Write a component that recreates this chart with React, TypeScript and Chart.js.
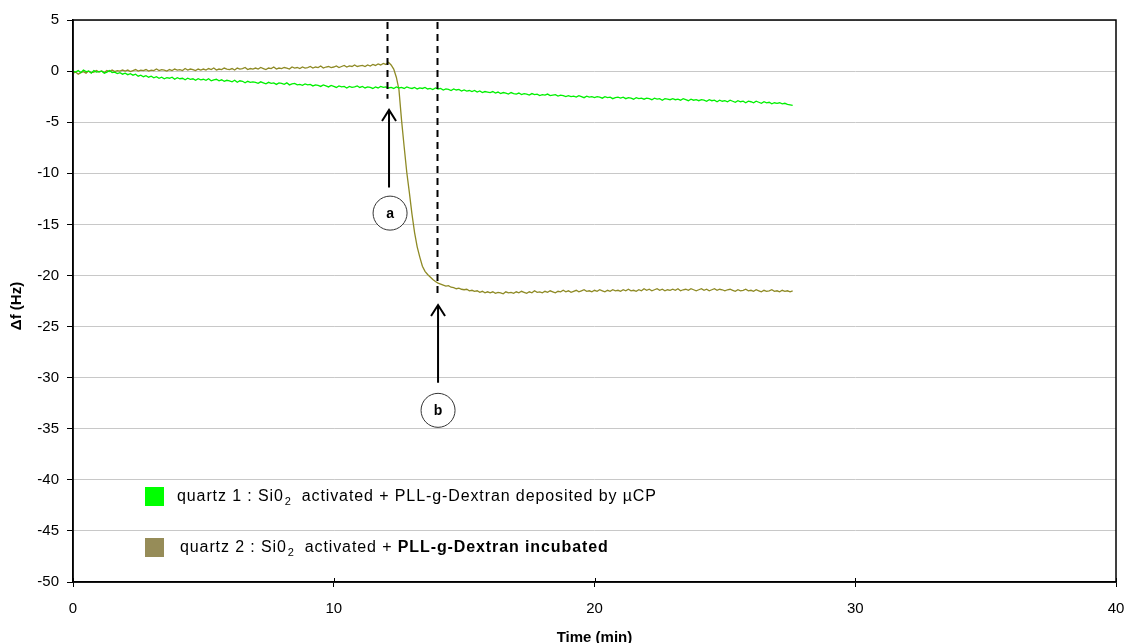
import { useEffect, useRef } from "react";
import { Chart, registerables } from "chart.js";

Chart.register(...registerables);

// ---- Data ----
const T_START = 0; // min
const T_STEP = 0.1; // min between samples

// quartz 1 : Si02 activated + PLL-g-Dextran deposited by µCP
const quartz1 = [
  0.0, -0.1, 0.05, -0.15, 0.1, -0.05, 0.0, -0.2, 0.05, -0.1,
  -0.05, 0.0, -0.2, -0.1, 0.05, -0.15, -0.1, -0.25, -0.15, -0.3,
  -0.2, -0.35, -0.25, -0.4, -0.3, -0.5, -0.4, -0.55, -0.45, -0.6,
  -0.5, -0.65, -0.55, -0.7, -0.6, -0.75, -0.65, -0.7, -0.6, -0.8,
  -0.65, -0.75, -0.7, -0.85, -0.7, -0.8, -0.75, -0.9, -0.75, -0.85,
  -0.8, -0.9, -0.75, -0.95, -0.85, -0.8, -0.95, -0.85, -1.0, -0.9,
  -0.95, -1.05, -0.9, -1.1, -0.95, -1.0, -1.15, -1.0, -1.1, -1.05,
  -1.1, -1.2, -1.05, -1.15, -1.25, -1.1, -1.2, -1.15, -1.3, -1.15,
  -1.2, -1.3, -1.15, -1.35, -1.25, -1.2, -1.35, -1.3, -1.4, -1.25,
  -1.35, -1.3, -1.45, -1.35, -1.4, -1.5, -1.35, -1.45, -1.55, -1.4,
  -1.5, -1.6, -1.45, -1.55, -1.5, -1.65, -1.5, -1.6, -1.55, -1.45,
  -1.6, -1.5, -1.65, -1.55, -1.6, -1.7, -1.55, -1.65, -1.5, -1.6,
  -1.55, -1.65, -1.6, -1.7, -1.55, -1.65, -1.6, -1.7, -1.55, -1.65,
  -1.7, -1.6, -1.75, -1.65, -1.7, -1.6, -1.75, -1.7, -1.8, -1.65,
  -1.75, -1.7, -1.85, -1.75, -1.8, -1.9, -1.75, -1.85, -1.8, -1.95,
  -1.85, -1.95, -1.9, -2.0, -1.9, -2.05, -1.95, -2.1, -2.0, -2.05,
  -2.1, -2.0, -2.15, -2.05, -2.2, -2.1, -2.15, -2.25, -2.1, -2.2,
  -2.25, -2.15, -2.3, -2.2, -2.25, -2.35, -2.2, -2.3, -2.25, -2.4,
  -2.3, -2.35, -2.25, -2.4, -2.35, -2.3, -2.45, -2.35, -2.4, -2.5,
  -2.4, -2.5, -2.45, -2.55, -2.4, -2.5, -2.6, -2.45, -2.55, -2.5,
  -2.6, -2.5, -2.55, -2.65, -2.5, -2.6, -2.55, -2.7, -2.6, -2.55,
  -2.65, -2.55, -2.7, -2.6, -2.65, -2.75, -2.6, -2.7, -2.65, -2.75,
  -2.65, -2.7, -2.8, -2.65, -2.75, -2.7, -2.85, -2.7, -2.75, -2.8,
  -2.7, -2.8, -2.75, -2.85, -2.7, -2.8, -2.9, -2.75, -2.85, -2.8,
  -2.9, -2.8, -2.85, -2.95, -2.8, -2.9, -2.85, -3.0, -2.85, -2.95,
  -2.9, -3.0, -2.85, -2.95, -3.05, -2.9, -3.0, -2.95, -3.1, -2.95,
  -3.0, -3.1, -2.95, -3.05, -3.15, -3.0, -3.1, -3.05, -3.2, -3.1,
  -3.15, -3.1, -3.2, -3.15, -3.25, -3.3, -3.35,
];

// quartz 2 : Si02 activated + PLL-g-Dextran incubated
const quartz2 = [
  -0.2, -0.1, -0.3, -0.15, -0.05, -0.2, 0.0, -0.15, -0.1, 0.05,
  -0.1, 0.0, -0.15, 0.05, -0.05, 0.1, -0.05, 0.05, 0.0, 0.1,
  0.0, 0.1, -0.05, 0.05, 0.15, 0.0, 0.1, 0.05, 0.15, 0.0,
  0.1, 0.05, 0.2, 0.05, 0.15, 0.1, 0.0, 0.15, 0.05, 0.2,
  0.1, 0.15, 0.05, 0.25, 0.1, 0.2, 0.15, 0.05, 0.2, 0.1,
  0.2, 0.1, 0.25, 0.15, 0.3, 0.1, 0.2, 0.15, 0.3, 0.2,
  0.15, 0.25, 0.1, 0.3, 0.2, 0.25, 0.35, 0.15, 0.25, 0.2,
  0.3, 0.2, 0.35, 0.25, 0.15, 0.3, 0.25, 0.4, 0.2, 0.3,
  0.25, 0.35, 0.3, 0.2, 0.4, 0.3, 0.35, 0.25, 0.4, 0.3,
  0.35, 0.45, 0.3, 0.4, 0.35, 0.5, 0.3, 0.4, 0.45, 0.35,
  0.4, 0.5, 0.35, 0.45, 0.55, 0.4, 0.5, 0.45, 0.6, 0.45,
  0.5, 0.55, 0.45, 0.6, 0.5, 0.65, 0.55, 0.7, 0.6, 0.75,
  0.65, 0.85, 0.6, 0.2, -0.6, -1.8, -4.8, -7.4, -9.9, -11.9,
  -14.0, -15.8, -17.2, -18.2, -19.1, -19.6, -19.9, -20.15, -20.4, -20.6,
  -20.75, -20.85, -20.95, -21.05, -21.0, -21.15, -21.2, -21.3, -21.25, -21.35,
  -21.4, -21.35, -21.5, -21.45, -21.55, -21.5, -21.65, -21.55, -21.7, -21.6,
  -21.7, -21.6, -21.75, -21.65, -21.7, -21.8, -21.6, -21.7, -21.65, -21.75,
  -21.6, -21.7, -21.55, -21.65, -21.75, -21.6, -21.7, -21.5, -21.65, -21.6,
  -21.7, -21.55, -21.65, -21.5, -21.6, -21.7, -21.55, -21.6, -21.45, -21.6,
  -21.5, -21.65, -21.55, -21.45, -21.6, -21.5, -21.4, -21.55, -21.5, -21.6,
  -21.45, -21.55, -21.4, -21.5, -21.6, -21.45, -21.55, -21.4, -21.5, -21.45,
  -21.55, -21.4, -21.5, -21.35, -21.5, -21.45, -21.55, -21.4, -21.5, -21.3,
  -21.45, -21.35, -21.5, -21.4, -21.3, -21.45, -21.35, -21.5, -21.4, -21.45,
  -21.35, -21.45, -21.3, -21.5, -21.4, -21.35, -21.45, -21.3, -21.4, -21.5,
  -21.4, -21.3, -21.45, -21.35, -21.5, -21.4, -21.3, -21.45, -21.35, -21.4,
  -21.5, -21.4, -21.35, -21.45, -21.55, -21.4, -21.5, -21.45, -21.35, -21.5,
  -21.45, -21.55, -21.4, -21.5, -21.6, -21.45, -21.55, -21.5, -21.4, -21.55,
  -21.5, -21.6, -21.45, -21.55, -21.5, -21.6, -21.5,
];

const X_MIN = 0;
const X_MAX = 40;
const X_STEP = 10;
const Y_MIN = -50;
const Y_MAX = 5;
const Y_STEP = 5;

const X_TITLE = "Time (min)";
const Y_TITLE = "\u0394f (Hz)";

// event markers (time in min, values in Hz)
const markerLabels = ["a", "b"];
const markerTimes = [12.04, 13.96];
const markerDashTop = [4.8, 4.8];
const markerDashBottom = [-2.7, -22.1];
const arrowTimes = [12.12, 14.0];
const arrowTips = [-3.8, -22.9];
const arrowTails = [-11.4, -30.5];
const circleTimes = [12.16, 14.0];
const circleValues = [-13.9, -33.2];

type Run = { t: string; bold?: boolean; sub?: boolean };
const legendRuns: Run[][] = [
  [
    { t: "quartz 1 : Si0" },
    { t: "2", sub: true },
    { t: "  activated + PLL-g-Dextran deposited by \u00b5CP" },
  ],
  [
    { t: "quartz 2 : Si0" },
    { t: "2", sub: true },
    { t: "  activated + " },
    { t: "PLL-g-Dextran incubated", bold: true },
  ],
];
const legendColors = ["#00ff00", "#968c58"];
const lineColors = ["#00f000", "#8e8a25"];

const FONT = "'Liberation Sans', Arial, sans-serif";

const toPoints = (vals: number[]) =>
  vals.map((y, i) => ({ x: Number((T_START + i * T_STEP).toFixed(2)), y }));

const decorPlugin = {
  id: "decor",
  afterDatasetsDraw(chart: any) {
    const { ctx, chartArea, scales } = chart;
    const xs = scales.x;
    const ys = scales.y;
    ctx.save();
    // markers
    for (let i = 0; i < markerLabels.length; i++) {
      const dx = Math.round(xs.getPixelForValue(markerTimes[i])) + 0.5;
      ctx.strokeStyle = "#000";
      ctx.lineWidth = 2;
      ctx.setLineDash([7, 5]);
      ctx.beginPath();
      ctx.moveTo(dx, ys.getPixelForValue(markerDashTop[i]));
      ctx.lineTo(dx, ys.getPixelForValue(markerDashBottom[i]));
      ctx.stroke();
      ctx.setLineDash([]);

      const ax = xs.getPixelForValue(arrowTimes[i]);
      const tip = ys.getPixelForValue(arrowTips[i]);
      const tail = ys.getPixelForValue(arrowTails[i]);
      ctx.lineWidth = 2;
      ctx.beginPath();
      ctx.moveTo(ax, tail);
      ctx.lineTo(ax, tip);
      ctx.moveTo(ax - 7, tip + 11);
      ctx.lineTo(ax, tip);
      ctx.lineTo(ax + 7, tip + 11);
      ctx.stroke();

      const cx = xs.getPixelForValue(circleTimes[i]);
      const cy = ys.getPixelForValue(circleValues[i]);
      ctx.beginPath();
      ctx.arc(cx, cy, 17, 0, Math.PI * 2);
      ctx.fillStyle = "#fff";
      ctx.fill();
      ctx.lineWidth = 1;
      ctx.strokeStyle = "#333";
      ctx.stroke();
      ctx.fillStyle = "#000";
      ctx.font = `bold 14px ${FONT}`;
      ctx.textAlign = "center";
      ctx.textBaseline = "middle";
      ctx.fillText(markerLabels[i], cx, cy + 1);
    }

    // plot border
    ctx.strokeStyle = "#000";
    ctx.lineWidth = 1.5;
    ctx.strokeRect(chartArea.left, chartArea.top, chartArea.right - chartArea.left, chartArea.bottom - chartArea.top);

    // inner part of x ticks
    ctx.lineWidth = 1;
    for (const t of xs.ticks) {
      const px = Math.round(xs.getPixelForValue(t.value)) + 0.5;
      ctx.beginPath();
      ctx.moveTo(px, chartArea.bottom - 4);
      ctx.lineTo(px, chartArea.bottom);
      ctx.stroke();
    }

    // legend
    const lx = chartArea.left + 72;
    const rowY = [chartArea.top + 477, chartArea.top + 528];
    for (let r = 0; r < legendRuns.length; r++) {
      ctx.fillStyle = legendColors[r];
      ctx.fillRect(lx, rowY[r] - 10, 19, 19);
      let x = lx + 32 + r * 3;
      ctx.textAlign = "left";
      ctx.textBaseline = "middle";
      for (const run of legendRuns[r]) {
        ctx.fillStyle = "#000";
        if (run.sub) {
          ctx.letterSpacing = "0px";
          ctx.font = `11px ${FONT}`;
          ctx.fillText(run.t, x + 1, rowY[r] + 5);
          x += ctx.measureText(run.t).width + 1;
        } else {
          ctx.font = `${run.bold ? "bold " : ""}16px ${FONT}`;
          ctx.letterSpacing = "0.9px";
          ctx.fillText(run.t, x, rowY[r]);
          x += ctx.measureText(run.t).width;
        }
      }
    }
    ctx.letterSpacing = "0px";

    // axis titles
    ctx.fillStyle = "#000";
    ctx.font = `bold 15px ${FONT}`;
    ctx.textAlign = "center";
    ctx.textBaseline = "middle";
    ctx.fillText(X_TITLE, (chartArea.left + chartArea.right) / 2, chartArea.bottom + 56);
    ctx.translate(17, (chartArea.top + chartArea.bottom) / 2 + 5);
    ctx.rotate(-Math.PI / 2);
    ctx.fillText(Y_TITLE, 0, 0);
    ctx.restore();
  },
};

export default function App() {
  const ref = useRef<HTMLCanvasElement | null>(null);
  useEffect(() => {
    if (!ref.current) return;
    const chart = new Chart(ref.current, {
      type: "line",
      data: {
        datasets: [
          {
            label: "quartz 1",
            data: toPoints(quartz1),
            borderColor: lineColors[0],
            borderWidth: 1.3,
            pointRadius: 0,
            tension: 0,
          },
          {
            label: "quartz 2",
            data: toPoints(quartz2),
            borderColor: lineColors[1],
            borderWidth: 1.3,
            pointRadius: 0,
            tension: 0,
          },
        ],
      },
      options: {
        responsive: false,
        animation: false,
        events: [],
        layout: { padding: { left: 0, right: 13, top: 20, bottom: 0 } },
        plugins: { legend: { display: false }, tooltip: { enabled: false }, title: { display: false } },
        scales: {
          x: {
            type: "linear",
            min: X_MIN,
            max: X_MAX,
            afterFit: (s: any) => {
              s.height = 61;
              s.paddingLeft = 0;
              s.paddingRight = 0;
            },
            ticks: {
              stepSize: X_STEP,
              color: "#000",
              padding: 13,
              maxRotation: 0,
              font: { family: FONT, size: 15 },
            },
            grid: { drawOnChartArea: false, drawTicks: true, tickLength: 5, tickColor: "#000" },
            border: { display: true, color: "#000", width: 1.5 },
          },
          y: {
            type: "linear",
            min: Y_MIN,
            max: Y_MAX,
            afterFit: (s: any) => {
              s.width = 73;
              s.paddingTop = 0;
              s.paddingBottom = 0;
            },
            ticks: {
              stepSize: Y_STEP,
              color: "#000",
              padding: 8,
              font: { family: FONT, size: 15 },
            },
            grid: { color: "#c8c8c8", lineWidth: 1, drawTicks: true, tickLength: 6, tickColor: "#000" },
            border: { display: true, color: "#000", width: 1.5 },
          },
        },
      },
      plugins: [decorPlugin],
    });
    return () => chart.destroy();
  }, []);
  return (
    <div style={{ position: "fixed", left: 0, top: 0, width: 1129, height: 643, background: "#fff" }}>
      <canvas ref={ref} width={1129} height={643} />
    </div>
  );
}
